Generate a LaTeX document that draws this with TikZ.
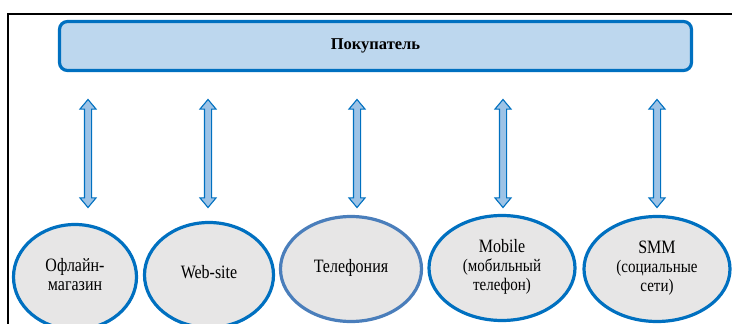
\documentclass[tikz,border=0pt]{standalone}
\usepackage{fontspec}
\setmainfont{Liberation Serif}
\usepackage{tikz}
\usetikzlibrary{positioning, shapes.geometric, shapes.arrows}
\definecolor{frameblue}{HTML}{0070C0}
\definecolor{steelblue}{HTML}{4A7EBB}
\definecolor{boxfill}{HTML}{BDD7EE}
\definecolor{ovalfill}{HTML}{E7E6E6}
\definecolor{arrowfill}{HTML}{9DC3E6}
\newcommand{\ovaltext}[1]{\scalebox{1}[1.18]{\begin{tabular}{@{}c@{}}#1\end{tabular}}}

\begin{document}
\begin{tikzpicture}[x=1pt,y=-1pt]
  \tikzstyle{channel}=[ellipse, draw=frameblue, line width=3.2pt, fill=ovalfill,
    inner sep=0pt, minimum height=105pt, align=center,
    font=\fontsize{16}{16}\selectfont]
  \tikzstyle{dblarrow}=[double arrow, shape border rotate=90, draw=frameblue,
    line width=1.1pt, fill=arrowfill, inner sep=3pt, minimum width=0pt,
    minimum height=108pt, double arrow head extend=4.5pt,
    double arrow head indent=0pt, double arrow tip angle=80]

  \useasboundingbox (0,0) rectangle (732,324);
  \clip (0,0) rectangle (732,324);

  % outer frame
  \draw[line width=1.6pt] (8,340) |- (745,14);

  \node[draw=frameblue, line width=3.2pt, fill=boxfill, rounded corners=8pt,
    minimum width=632pt, minimum height=49pt, inner sep=0pt,
    font=\bfseries\fontsize{16.5}{19}\selectfont] (buyer) at (375.5,46) {Покупатель};

  \node[channel, minimum width=123pt] (offline) at (75,277) {\ovaltext{Офлайн-\\магазин}};
  \node[channel, minimum width=129pt] (website) at (209,275) {\ovaltext{Web-site}};
  \node[channel, draw=steelblue, minimum width=141pt] (phone) at (351,269) {\ovaltext{Телефония}};
  \node[channel, minimum width=146pt] (mobile) at (502,268)
    {\ovaltext{Mobile\\{\fontsize{15}{16}\selectfont (мобильный}\\{\fontsize{15}{16}\selectfont телефон)}}};
  \node[channel, minimum width=146pt] (smm) at (657,269)
    {\ovaltext{SMM\\{\fontsize{15}{16}\selectfont (социальные}\\{\fontsize{15}{16}\selectfont сети)}}};

  % two-way links
  \node[dblarrow] (a_offline) at (88,153.5) {};
  \node[dblarrow] (a_website) at (208,153.5) {};
  \node[dblarrow] (a_phone)   at (357,153.5) {};
  \node[dblarrow] (a_mobile)  at (503,153.5) {};
  \node[dblarrow] (a_smm)     at (657,153.5) {};
\end{tikzpicture}
\end{document}
